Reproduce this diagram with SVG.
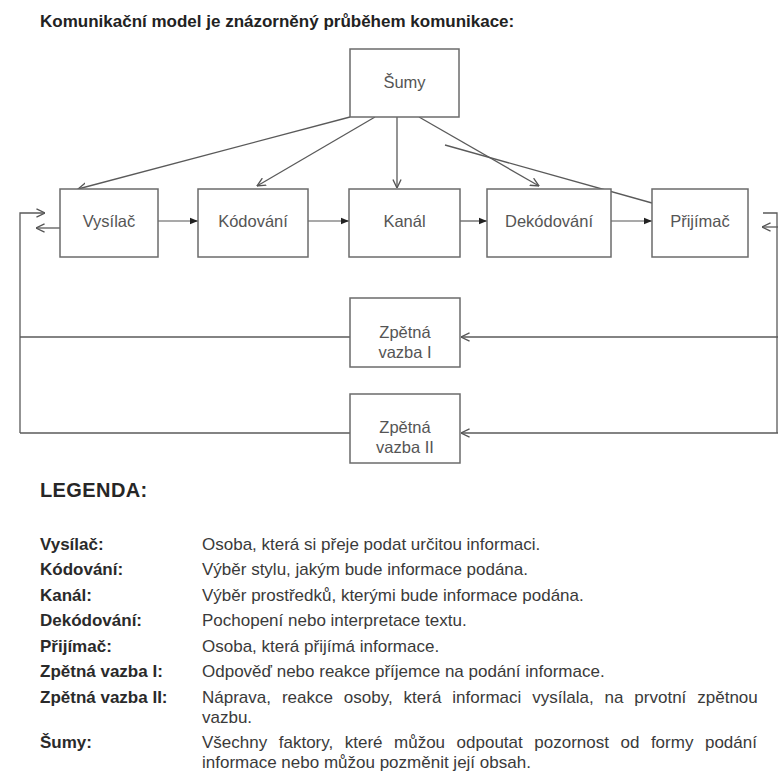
<svg xmlns="http://www.w3.org/2000/svg" width="778" height="773" viewBox="0 0 778 773">
  <style>
    .box { fill: #ffffff; stroke: #6b6b6b; stroke-width: 1.5; }
    .lbl { font-family: "Liberation Sans", Arial, sans-serif; font-size: 16.5px; fill: #555555; text-anchor: middle; }
    .wire { fill: none; stroke: #5a5a5a; stroke-width: 1.3; }
    .flow { fill: none; stroke: #555555; stroke-width: 1.2; }
    .title { font-family: "Liberation Sans", Arial, sans-serif; font-size: 17px; font-weight: bold; fill: #222222; }
    .head { font-family: "Liberation Sans", Arial, sans-serif; font-size: 20px; font-weight: bold; fill: #262626; letter-spacing: 0.4px; }
    .key { font-family: "Liberation Sans", Arial, sans-serif; font-size: 17px; font-weight: bold; fill: #2a2a2a; }
    .desc { font-family: "Liberation Sans", Arial, sans-serif; font-size: 17px; fill: #3a3a3a; }
  </style>
  <defs>
    <marker id="solid" viewBox="0 0 10 10" refX="10" refY="5" markerWidth="8" markerHeight="8" markerUnits="userSpaceOnUse" orient="auto">
      <path d="M0,1 L10,5 L0,9 Z" fill="#222222"/>
    </marker>
    <marker id="open" viewBox="0 0 10 10" refX="9.5" refY="5" markerWidth="9" markerHeight="10" markerUnits="userSpaceOnUse" orient="auto">
      <path d="M0,0.5 L9.5,5 L0,9.5" fill="none" stroke="#555555" stroke-width="1.5"/>
    </marker>
  </defs>

  <rect width="778" height="773" fill="#ffffff"/>

  <text class="title" x="40" y="27">Komunikační model je znázorněný průběhem komunikace:</text>

  <!-- connectors -->
  <g id="connectors">
    <!-- noise influences -->
    <line class="wire" x1="350" y1="117" x2="78" y2="189" marker-end="url(#open)"/>
    <line class="wire" x1="375" y1="117" x2="257" y2="186" marker-end="url(#open)"/>
    <line class="wire" x1="397" y1="117" x2="397" y2="188" marker-end="url(#open)"/>
    <line class="wire" x1="419" y1="117" x2="539" y2="186" marker-end="url(#open)"/>
    <line class="wire" x1="445" y1="145" x2="652" y2="203"/>
    <!-- main chain -->
    <line class="flow" x1="158" y1="221" x2="198" y2="221" marker-end="url(#solid)"/>
    <line class="flow" x1="308" y1="221" x2="349" y2="221" marker-end="url(#solid)"/>
    <line class="flow" x1="460" y1="221" x2="487" y2="221" marker-end="url(#solid)"/>
    <line class="flow" x1="611" y1="221" x2="652" y2="221" marker-end="url(#solid)"/>
    <!-- left feedback return -->
    <polyline class="wire" points="20,433 20,213 45,213" marker-end="url(#open)"/>
    <line class="wire" x1="60" y1="228" x2="36" y2="228" marker-end="url(#open)"/>
    <line class="wire" x1="20" y1="337" x2="350" y2="337"/>
    <line class="wire" x1="20" y1="433" x2="350" y2="433"/>
    <!-- right feedback source -->
    <line class="wire" x1="778" y1="337" x2="461" y2="337" marker-end="url(#open)"/>
    <line class="wire" x1="778" y1="433" x2="461" y2="433" marker-end="url(#open)"/>
    <polyline class="wire" points="763,213 777,213 777,433" stroke="#a0a0a0"/>
    <line class="wire" x1="778" y1="227" x2="762" y2="227" marker-end="url(#open)"/>
  </g>

  <g id="sumy">
    <rect class="box" x="350" y="49" width="109" height="68"/>
    <text class="lbl" x="404.5" y="88">Šumy</text>
  </g>
  <g id="vysilac">
    <rect class="box" x="60" y="189" width="98" height="68"/>
    <text class="lbl" x="109" y="227">Vysílač</text>
  </g>
  <g id="kodovani">
    <rect class="box" x="198" y="189" width="110" height="68"/>
    <text class="lbl" x="253" y="227">Kódování</text>
  </g>
  <g id="kanal">
    <rect class="box" x="349" y="189" width="111" height="68"/>
    <text class="lbl" x="404.5" y="227">Kanál</text>
  </g>
  <g id="dekodovani">
    <rect class="box" x="487" y="189" width="124" height="68"/>
    <text class="lbl" x="549" y="227">Dekódování</text>
  </g>
  <g id="prijimac">
    <rect class="box" x="652" y="189" width="96" height="68"/>
    <text class="lbl" x="700" y="227">Přijímač</text>
  </g>
  <g id="zpetna-vazba-1">
    <rect class="box" x="350" y="298" width="110" height="69"/>
    <text class="lbl" x="405" y="338">Zpětná</text>
    <text class="lbl" x="405" y="358">vazba I</text>
  </g>
  <g id="zpetna-vazba-2">
    <rect class="box" x="350" y="394" width="110" height="69"/>
    <text class="lbl" x="405" y="433">Zpětná</text>
    <text class="lbl" x="405" y="453">vazba II</text>
  </g>

  <!-- legend -->
  <text class="head" x="40" y="497">LEGENDA:</text>

  <text class="key" x="40" y="550">Vysílač:</text>
  <text class="desc" x="202" y="550">Osoba, která si přeje podat určitou informaci.</text>

  <text class="key" x="40" y="575">Kódování:</text>
  <text class="desc" x="202" y="575">Výběr stylu, jakým bude informace podána.</text>

  <text class="key" x="40" y="600.5">Kanál:</text>
  <text class="desc" x="202" y="600.5">Výběr prostředků, kterými bude informace podána.</text>

  <text class="key" x="40" y="626">Dekódování:</text>
  <text class="desc" x="202" y="626">Pochopení nebo interpretace textu.</text>

  <text class="key" x="40" y="651.5">Přijímač:</text>
  <text class="desc" x="202" y="651.5">Osoba, která přijímá informace.</text>

  <text class="key" x="40" y="677">Zpětná vazba I:</text>
  <text class="desc" x="202" y="677">Odpověď nebo reakce příjemce na podání informace.</text>

  <text class="key" x="40" y="702.5">Zpětná vazba II:</text>
  <text class="desc" x="202" y="702.5" word-spacing="6.2">Náprava, reakce osoby, která informaci vysílala, na prvotní zpětnou</text>
  <text class="desc" x="202" y="722.5">vazbu.</text>

  <text class="key" x="40" y="748">Šumy:</text>
  <text class="desc" x="202" y="748" word-spacing="6.8">Všechny faktory, které můžou odpoutat pozornost od formy podání</text>
  <text class="desc" x="202" y="768">informace nebo můžou pozměnit její obsah.</text>
</svg>
